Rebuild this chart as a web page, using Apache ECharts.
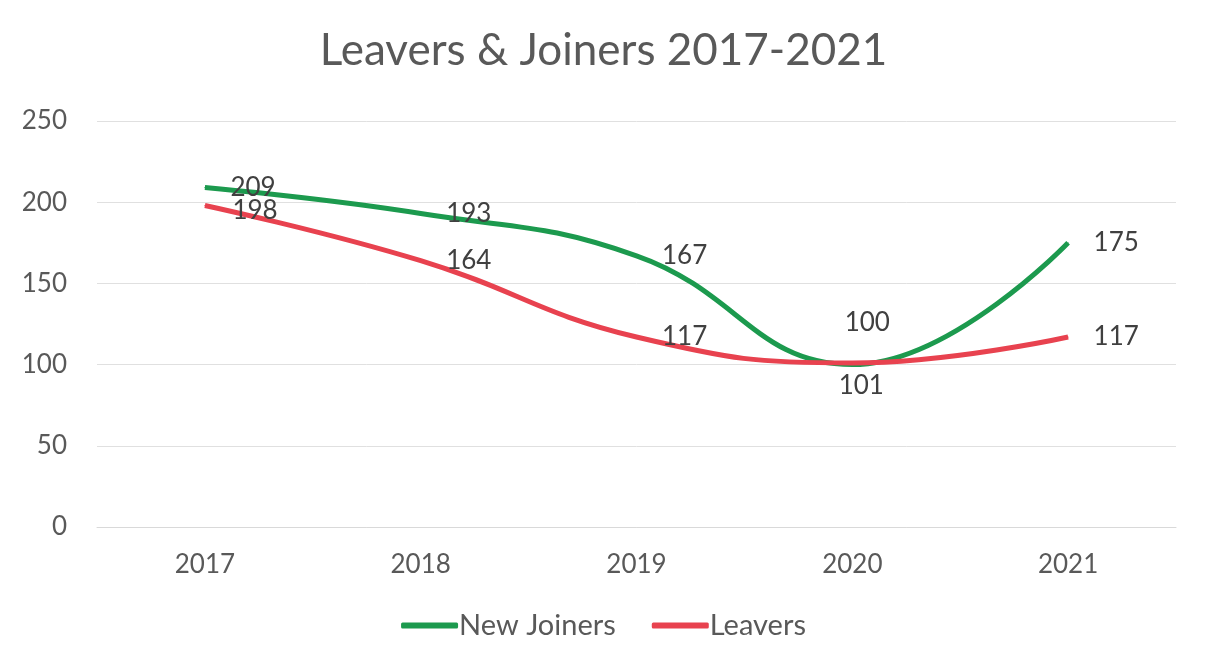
<!DOCTYPE html>
<html>
<head>
<meta charset="utf-8">
<script src="https://cdn.jsdelivr.net/npm/echarts@6/dist/echarts.min.js"></script>
<style>
html,body{margin:0;padding:0;background:#fff;}
#chart{width:1207px;height:672px;}
</style>
</head>
<body>
<div id="chart"></div>
<script>
const years = ['2017', '2018', '2019', '2020', '2021'];
const newJoiners = [209, 193, 167, 100, 175];
const leavers = [198, 164, 117, 101, 117];
const yTicks = { min: 0, max: 250, interval: 50 };

const FONT = 'Lato, "Open Sans", sans-serif';
const chart = echarts.init(document.getElementById('chart'));

function labelled(values, special) {
  return values.map((v, i) => special[i] ? { value: v, label: special[i] } : v);
}

chart.setOption({
  backgroundColor: '#ffffff',
  animation: false,
  title: {
    text: 'Leavers & Joiners 2017-2021',
    left: 'center',
    top: 24,
    textStyle: { fontFamily: FONT, fontSize: 44, fontWeight: 'normal', color: '#595959' }
  },
  legend: {
    bottom: 27,
    left: 'center',
    itemWidth: 57,
    itemHeight: 6,
    itemGap: 36,
    icon: 'roundRect',
    textStyle: { fontFamily: FONT, fontSize: 29, color: '#595959', padding: [0, 0, 0, -4] },
    data: ['New Joiners', 'Leavers']
  },
  grid: { left: 97, right: 31, top: 121, bottom: 145, containLabel: false },
  xAxis: {
    type: 'category',
    data: years,
    boundaryGap: true,
    axisLine: { show: true, lineStyle: { color: '#d9d9d9', width: 1 } },
    axisTick: { show: false },
    axisLabel: { fontFamily: FONT, fontSize: 26, color: '#595959', margin: 25 }
  },
  yAxis: {
    type: 'value',
    min: yTicks.min,
    max: yTicks.max,
    interval: yTicks.interval,
    axisLine: { show: false },
    axisTick: { show: false },
    splitLine: { lineStyle: { color: '#e0e0e0', width: 1 } },
    axisLabel: { fontFamily: FONT, fontSize: 26, color: '#595959', margin: 30 }
  },
  series: [
    {
      name: 'New Joiners',
      type: 'line',
      smooth: 0.45,
      symbol: 'circle',
      symbolSize: 1,
      showSymbol: true,
      data: labelled(newJoiners, [null, null, null,
        { position: 'top', distance: 28, offset: [15, 0] }, null]),
      itemStyle: { color: '#1c9a4e' },
      lineStyle: { width: 5, color: '#1c9a4e' },
      z: 2,
      label: {
        show: true, position: 'right', distance: 25,
        fontFamily: FONT, fontSize: 26, color: '#404040'
      }
    },
    {
      name: 'Leavers',
      type: 'line',
      smooth: 0.45,
      symbol: 'circle',
      symbolSize: 1,
      showSymbol: true,
      data: labelled(leavers, [{ position: 'right', distance: 27, offset: [0, 5] }, null, null,
        { position: 'bottom', distance: 9, offset: [9, 0] }, null]),
      itemStyle: { color: '#e8424f' },
      lineStyle: { width: 5, color: '#e8424f' },
      z: 3,
      label: {
        show: true, position: 'right', distance: 25,
        fontFamily: FONT, fontSize: 26, color: '#404040'
      }
    }
  ]
});
</script>
</body>
</html>
